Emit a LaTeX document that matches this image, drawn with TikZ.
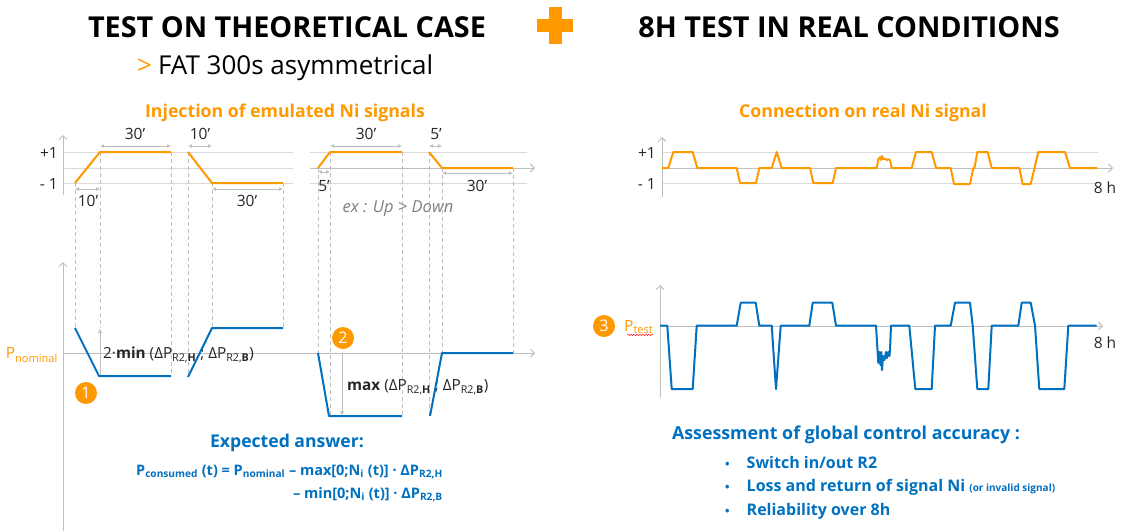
\documentclass[tikz,border=0pt]{standalone}
\usepackage{fontspec}
\setmainfont{Open Sans}
\usetikzlibrary{arrows.meta,decorations.pathmorphing}
\definecolor{org}{RGB}{255,153,0}
\definecolor{blu}{RGB}{0,112,192}
\definecolor{gry}{RGB}{191,191,191}
\definecolor{lgry}{RGB}{217,217,217}
\definecolor{dtxt}{RGB}{38,38,38}
\definecolor{itxt}{RGB}{128,128,128}
\newcommand{\fsz}[1]{\fontsize{#1}{#1}\selectfont}
\tikzset{
  axisln/.style={gry, line width=0.9pt, -{Straight Barb[length=4pt,width=8pt]}},
  gridln/.style={lgry, line width=0.9pt},
  dashln/.style={gry, line width=0.7pt, dash pattern=on 4pt off 3pt},
  dimln/.style={gry, line width=1pt, {Latex[length=4pt,width=4pt]}-{Latex[length=4pt,width=4pt]}},
  meas/.style={gry, line width=1pt, -{Latex[length=5pt,width=4pt]}},
  osig/.style={org, line width=2pt, line join=round},
  bsig/.style={blu, line width=2pt, line join=round},
  dimtxt/.style={text=dtxt, font=\fsz{15.5}, inner sep=0pt},
  numc/.style={circle, fill=org, text=white, minimum size=22pt, inner sep=0pt, font=\fsz{16}},
  title/.style={font=\fsz{28.8}\bfseries, text=black},
  sub/.style={font=\fsz{17.7}\bfseries, text=org},
  lvl/.style={text=dtxt, font=\fsz{15.5}, inner sep=0pt, anchor=east},
  item/.style={text=blu, font=\fsz{16}\bfseries, anchor=west, inner sep=0pt},
}
\begin{document}
\begin{tikzpicture}[x=1pt,y=-1pt]
\useasboundingbox[fill=white] (0,0) rectangle (1121,531);

% ---------- headers
\node[title] (h1) at (287,27) {TEST ON THEORETICAL CASE};
\node[title] (h2) at (849,27) {8H TEST IN REAL CONDITIONS};
\fill[org] (537,19) rectangle (573,32);
\fill[org] (549,7) rectangle (562,44);
\node[anchor=west, font=\fsz{26}, inner sep=0pt] (fat) at (137,68) {\textcolor{org}{>}\hspace{6pt}FAT 300s asymmetrical};

\node[sub] (inj) at (285,113) {Injection of emulated Ni signals};
\node[sub] (con) at (863,113) {Connection on real Ni signal};

% ---------- top-left chart
\draw[gridln] (63,152) -- (293,152) (63,183) -- (293,183) (63,168) -- (293,168);
\draw[gridln] (310,152) -- (527,152) (310,183) -- (527,183);
\draw[axisln] (310,168) -- (535,168);
\draw[axisln] (63,195) -- (63,135);
\node[lvl] (p1a) at (58,153) {+1};
\node[lvl] (m1a) at (58,184) {- 1};

% dashed projections
\foreach \x/\ya/\yb in {75/183/328, 100/152/328, 171/152/376, 188/152/377, 212/183/328, 283/183/328,
  318/168/353, 330/152/416, 402/152/416, 429/152/416, 442/168/353, 513/168/353}
  \draw[dashln] (\x,\ya) -- (\x,\yb);

\draw[osig] (75,183) -- (100,152) -- (171,152);
\draw[osig] (188,152) -- (212,183) -- (283,183);
\draw[osig] (318,168) -- (330,152) -- (402,152);
\draw[osig] (429,152) -- (442,168) -- (513,168);

% dimensions
\draw[dimln] (75,189) -- (100,189);
\node[dimtxt] (d1) at (88,201) {10’};
\draw[dimln] (100,146) -- (171,146);
\node[dimtxt] (d2) at (135,134) {30’};
\draw[dimln] (188,146) -- (212,146);
\node[dimtxt] (d3) at (200,134) {10’};
\draw[dimln] (212,189) -- (283,189);
\node[dimtxt] (d4) at (247,201) {30’};
\draw[dimln] (330,146) -- (402,146);
\node[dimtxt] (d5) at (366,134) {30’};
\draw[dimln] (429,146) -- (442,146);
\node[dimtxt] (d6) at (436,134) {5’};
\draw[dimln] (318,172) -- (330,172);
\node[dimtxt] (d7) at (324,186) {5’};
\draw[dimln] (442,173) -- (513,173);
\node[dimtxt] (d8) at (477,186) {30’};
\node[text=itxt, font=\fsz{16.5}\itshape] (ex) at (398,209) {ex : Up > Down};

% ---------- bottom-left chart
\draw[axisln] (63,531) -- (63,262);
\draw[axisln] (63,353) -- (535,353);
\node[anchor=east, text=org, inner sep=0pt] (pnom) at (58,355) {\fsz{15.5}P\textsubscript{\fsz{11}nominal}};

\draw[meas] (100,376) -- (100,328);
\draw[meas] (342,353) -- (342,416);

\node[anchor=west, text=dtxt, inner sep=0pt, font=\fsz{15.3}] (lab1) at (103,355)
  {2·\textbf{min} (ΔP\textsubscript{R2,\textbf{H}} ; ΔP\textsubscript{R2,\textbf{B}})};
\node[anchor=west, text=dtxt, inner sep=0pt, font=\fsz{15.3}] (lab2) at (347,387)
  {\textbf{max} (ΔP\textsubscript{R2,\textbf{H}} ; ΔP\textsubscript{R2,\textbf{B}})};

\draw[bsig] (75,328) -- (99,376) -- (171,376);
\draw[bsig] (188,377) -- (212,328) -- (283,328);
\draw[bsig] (318,353) -- (329,416) -- (402,416);
\draw[bsig] (430,416) -- (442,353) -- (513,353);

\node[numc] (n1) at (86,393) {1};
\node[numc] (n2) at (343,338) {2};

\node[text=blu, font=\fsz{17.6}\bfseries] (exp) at (287,443) {Expected answer:};
\node[anchor=base east, text=blu, font=\fsz{14.5}\bfseries, inner sep=0pt] (f1) at (443,475)
  {P\textsubscript{consumed} (t) = P\textsubscript{nominal} – max[0;N\textsubscript{i} (t)] · ΔP\textsubscript{R2,H}};
\node[anchor=base east, text=blu, font=\fsz{14.5}\bfseries, inner sep=0pt] (f2) at (443,498)
  {– min[0;N\textsubscript{i} (t)] · ΔP\textsubscript{R2,B}};

% ---------- top-right chart
\draw[gridln] (662,152) -- (1098,152) (662,183) -- (1098,183);
\draw[axisln] (662,168) -- (1113,168);
\draw[axisln] (662,197) -- (662,137);
\node[lvl] (p1b) at (656,153) {+1};
\node[lvl] (m1b) at (656,184) {- 1};
\node[text=dtxt, font=\fsz{15.5}, inner sep=0pt] (h8a) at (1105,188) {8 h};

\draw[osig] (662,168) -- (668.3,168) -- (673.3,152) -- (692.7,152) -- (697.3,168) -- (736.7,168)
  -- (740,183) -- (756,183) -- (759.3,168) -- (771.7,168) -- (776.7,152) -- (781.7,168)
  -- (810,168) -- (813.3,183) -- (832.7,183) -- (836,168) -- (876.7,168)
  -- (878.3,159.3) -- (880,157.3) -- (881,160) -- (882,156) -- (883.3,159.3) -- (885,158.7)
  -- (886.7,160) -- (888.3,159.3) -- (890,160) -- (891.7,168)
  -- (911.7,168) -- (916,152) -- (931.7,152) -- (936,168) -- (950.7,168) -- (954,184)
  -- (970,184) -- (973.3,168) -- (974.5,168) -- (977.3,152) -- (987.7,152) -- (991.7,168)
  -- (1019.3,168) -- (1022.7,184) -- (1030.7,184) -- (1038.3,152) -- (1065,152) -- (1070,168)
  -- (1097.3,168);

% ---------- bottom-right chart
\draw[axisln] (660,398) -- (660,285);
\draw[axisln] (660,326) -- (1103,326);
\node[text=dtxt, font=\fsz{15.5}, inner sep=0pt] (h8b) at (1105,343) {8 h};
\node[numc] (n3) at (604,326) {3};
\node[anchor=west, text=org, inner sep=0pt] (ptest) at (624,327) {\fsz{15.5}P\textsubscript{\fsz{11}test}};
\draw[red!80, line width=0.6pt, decorate, decoration={snake, amplitude=0.8pt, segment length=3pt}]
  (ptest.south west) ++(3,1) -- ++(26,0);

\draw[bsig] (660,325.7) -- (667.3,325.7) -- (671.7,389) -- (692.7,389) -- (696.7,325.7)
  -- (736.7,325.7) -- (740.7,302.7) -- (755.7,302.7) -- (759.3,325.7) -- (771.7,325.7)
  -- (776,389) -- (780.7,325.7) -- (809.3,325.7) -- (812.7,302.7) -- (832.3,302.7) -- (836,325.7)
  -- (876,325.7) -- (878.3,363) -- (879.5,352) -- (880.5,365) -- (881.3,352) -- (882,370)
  -- (883,356) -- (884.5,360) -- (886,352) -- (887,358) -- (888.3,352) -- (889.5,356)
  -- (890,350) -- (891,325.7)
  -- (909.3,325.7) -- (915.3,389) -- (931.7,389) -- (935,325.7) -- (950.7,325.7)
  -- (955,302.7) -- (970,302.7) -- (972.7,325.7) -- (977.3,389) -- (988.3,389) -- (991.7,325.7)
  -- (1018.3,325.7) -- (1021.7,302.7) -- (1030.7,302.7) -- (1035,325.7) -- (1039.3,389)
  -- (1064.3,389) -- (1068.3,325.7) -- (1096.7,325.7);

% ---------- right text
\node[text=blu, font=\fsz{17.8}\bfseries] (ass) at (846,435) {Assessment of global control accuracy :};
\node[item] (b1) at (725,462) {\fsz{12}•\hspace{17pt}\fsz{16}Switch in/out R2};
\node[item] (b2) at (725,487) {\fsz{12}•\hspace{17pt}\fsz{16}Loss and return of signal Ni {\fsz{10}(or invalid signal)}};
\node[item] (b3) at (725,511) {\fsz{12}•\hspace{17pt}\fsz{16}Reliability over 8h};
\end{tikzpicture}
\end{document}
